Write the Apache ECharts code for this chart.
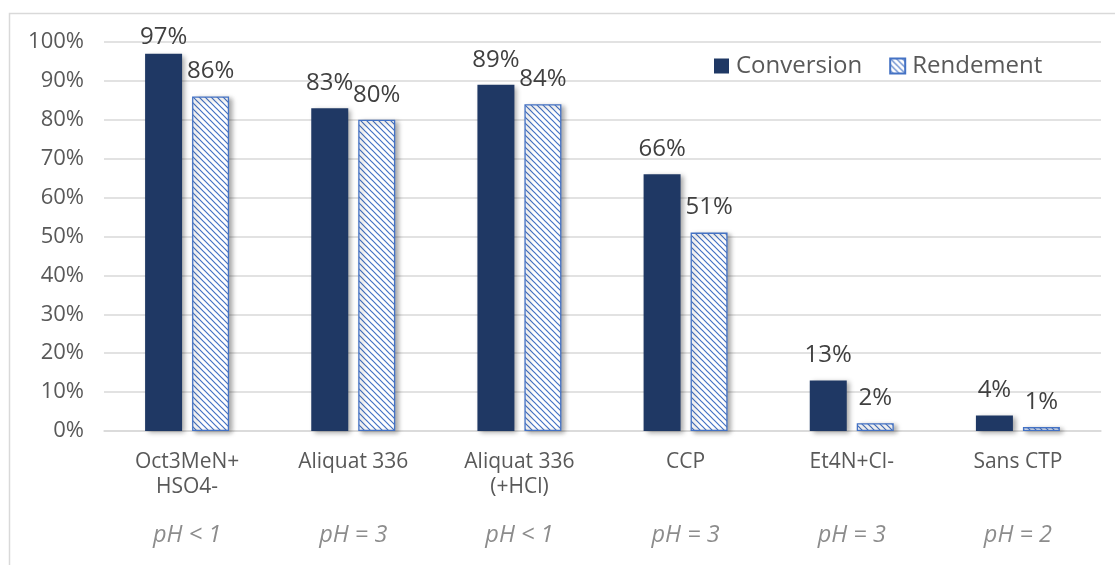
<!DOCTYPE html>
<html>
<head>
<meta charset="utf-8">
<script src="https://cdn.jsdelivr.net/npm/echarts@6/dist/echarts.min.js"></script>
<style>
html,body{margin:0;padding:0;background:#fff;}
#c{width:1115px;height:565px;}
</style>
</head>
<body>
<div id="c"></div>
<script>
const categories = ['Oct3MeN+\nHSO4-', 'Aliquat 336', 'Aliquat 336\n(+HCl)', 'CCP', 'Et4N+Cl-', 'Sans CTP'];
const phLabels = ['pH < 1', 'pH = 3', 'pH < 1', 'pH = 3', 'pH = 3', 'pH = 2'];
const conversion = [97, 83, 89, 66, 13, 4];
const rendement = [86, 80, 84, 51, 2, 1];
const yTicks = { min: 0, max: 100, interval: 10 };
// vertical nudges of individual data labels (style only)
const conversionLabelShift = [8, 0, 0, 0, 0, 0];

function hatch() {
  const s = 6;
  const c = document.createElement('canvas');
  c.width = s; c.height = s;
  const g = c.getContext('2d');
  g.fillStyle = '#ffffff';
  g.fillRect(0, 0, s, s);
  g.strokeStyle = '#4472c4';
  g.lineWidth = 1.2;
  g.beginPath();
  g.moveTo(-1, -1); g.lineTo(s + 1, s + 1);
  g.moveTo(-s - 1, -1); g.lineTo(1, s + 1);
  g.moveTo(s - 1, -1); g.lineTo(2 * s + 1, s + 1);
  g.stroke();
  return c;
}

const chart = echarts.init(document.getElementById('c'), null, { renderer: 'canvas' });
const font = '"Open Sans", "Noto Sans", sans-serif';
const shadow = { shadowColor: 'rgba(0,0,0,0.35)', shadowBlur: 5, shadowOffsetX: 3, shadowOffsetY: 2 };
const labelStyle = { show: true, position: 'top', distance: 13, formatter: '{c}%', fontSize: 24, color: '#404040', fontFamily: font };

chart.setOption({
  animation: false,
  textStyle: { fontFamily: font },
  graphic: [{
    type: 'rect', silent: true, z: -10,
    shape: { x: 9.5, y: 13.5, width: 1120, height: 570 },
    style: { fill: 'none', stroke: '#d9d9d9', lineWidth: 1.5 }
  }],
  legend: {
    left: 709, top: 49,
    itemWidth: 15, itemHeight: 15, itemGap: 27,
    icon: 'rect',
    textStyle: { fontSize: 24, color: '#595959', fontFamily: font, padding: [0, 0, 0, 2] },
    data: ['Conversion', 'Rendement']
  },
  grid: { left: 104, right: 14, top: 42, bottom: 134, containLabel: false },
  xAxis: [{
    type: 'category', data: categories,
    axisLine: { show: true, lineStyle: { color: '#d9d9d9', width: 1.5 } },
    axisTick: { show: false },
    axisLabel: { fontSize: 21, color: '#595959', margin: 19, lineHeight: 25, fontFamily: font, interval: 0 }
  }, {
    type: 'category', data: phLabels, position: 'bottom',
    axisLine: { show: false }, axisTick: { show: false },
    axisLabel: { fontSize: 23.5, color: '#8c8c8c', fontStyle: 'italic', margin: 93, fontFamily: font, interval: 0 }
  }],
  yAxis: {
    type: 'value', min: yTicks.min, max: yTicks.max, interval: yTicks.interval,
    axisLine: { show: false }, axisTick: { show: false },
    axisLabel: { formatter: '{value}%', fontSize: 22, color: '#595959', margin: 20, fontFamily: font },
    splitLine: { lineStyle: { color: '#d9d9d9', width: 1.5 } }
  },
  series: [{
    name: 'Conversion', type: 'bar', xAxisIndex: 0,
    data: conversion.map((v, i) => ({ value: v, label: { offset: [0, conversionLabelShift[i]] } })),
    barWidth: 37, barGap: '27%',
    itemStyle: Object.assign({ color: '#1f3864' }, shadow),
    label: labelStyle
  }, {
    name: 'Rendement', type: 'bar', xAxisIndex: 0, data: rendement,
    barWidth: 37,
    itemStyle: Object.assign({ color: { image: hatch(), repeat: 'repeat' }, borderColor: '#4472c4', borderWidth: 1.3 }, shadow),
    label: labelStyle
  }]
});
</script>
</body>
</html>
